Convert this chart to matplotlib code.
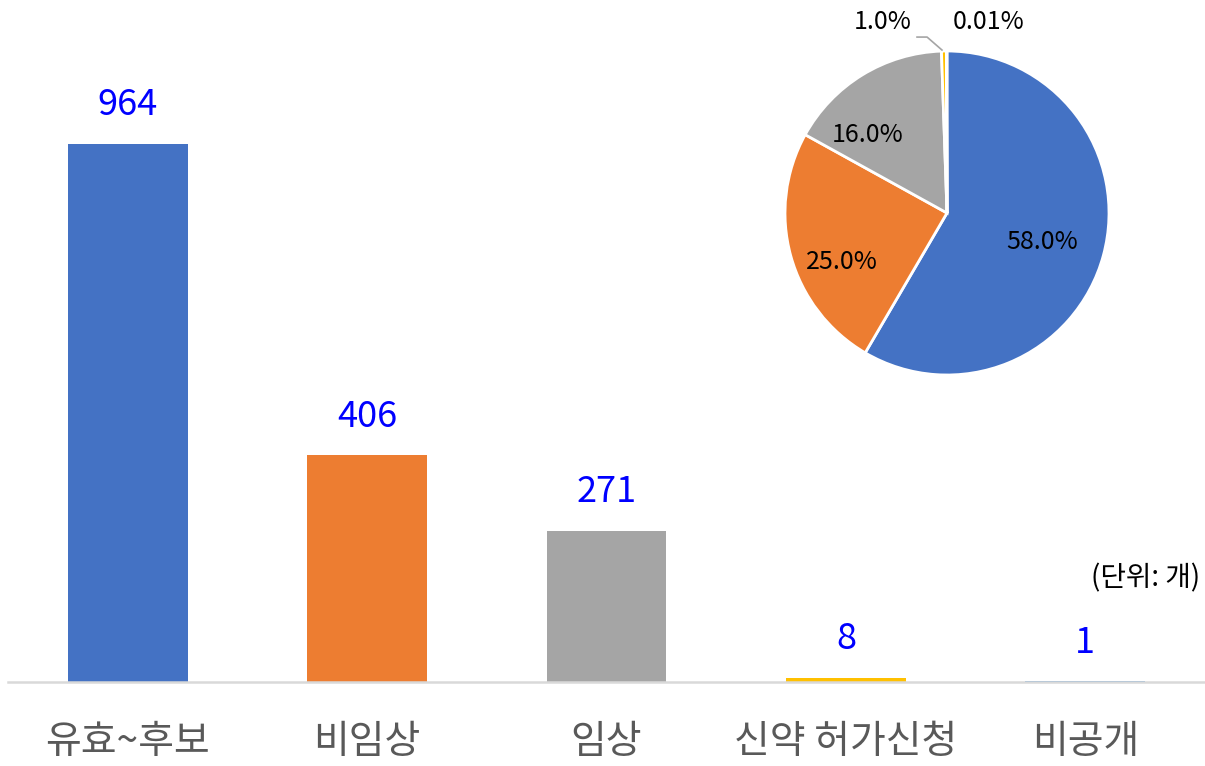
import matplotlib
matplotlib.use('Agg')
import matplotlib.pyplot as plt

plt.rcParams['font.family'] = ['Noto Sans CJK KR', 'DejaVu Sans']

# 데이터
categories = ['유효~후보', '비임상', '임상', '신약 허가신청', '비공개']
counts = [964, 406, 271, 8, 1]
colors = ['#4472C4', '#ED7D31', '#A5A5A5', '#FFC000', '#5B9BD5']
pie_labels = ['58.0%', '25.0%', '16.0%', '1.0%', '0.01%']

fig = plt.figure(figsize=(12.05, 7.66), dpi=100)

# 막대 그래프
ax = fig.add_axes([8/1205, 84/766, 1197/1205, 682/766])
x = range(len(categories))
ax.bar(x, counts, width=0.5, color=colors)
for i, v in enumerate(counts):
    ax.annotate(str(v), (i, v), xytext=(0, 15), textcoords='offset points',
                ha='center', va='bottom', color='#0000FF', fontsize=26)
ax.set_xlim(-0.5, 4.5)
ax.set_ylim(0, 682 / 0.558)
for s in ['top', 'left', 'right']:
    ax.spines[s].set_visible(False)
ax.spines['bottom'].set_color('#D9D9D9')
ax.spines['bottom'].set_linewidth(1.8)
ax.set_yticks([])
ax.set_xticks(list(x))
ax.set_xticklabels(categories, fontsize=28, color='#595959')
ax.tick_params(axis='x', length=0, pad=29)

fig.text(1200/1205, 1 - 578/766, '(단위: 개)', ha='right', va='center', fontsize=20)

# 원 그래프
pax = fig.add_axes([785/1205, 1 - 375/766, 324/1205, 324/766])
wedges, _ = pax.pie(counts, colors=colors, startangle=90, counterclock=False,
                    wedgeprops=dict(edgecolor='white', linewidth=2))
pax.set_xlim(-1, 1)
pax.set_ylim(-1, 1)
pax.set_aspect('equal')

pax.text(0.59, -0.18, pie_labels[0], ha='center', va='center', fontsize=18)
pax.text(-0.65, -0.30, pie_labels[1], ha='center', va='center', fontsize=18)
pax.text(-0.49, 0.48, pie_labels[2], ha='center', va='center', fontsize=18)
pax.text(-0.395, 1.18, pie_labels[3], ha='center', va='center', fontsize=18,
         clip_on=False)
pax.text(0.26, 1.18, pie_labels[4], ha='center', va='center', fontsize=18,
         clip_on=False)
# 1.0% 지시선
pax.plot([-0.185, -0.123, -0.031], [1.086, 1.086, 1.006], color='#A5A5A5',
         lw=1.2, clip_on=False)

fig.savefig('out.png', dpi=100)
